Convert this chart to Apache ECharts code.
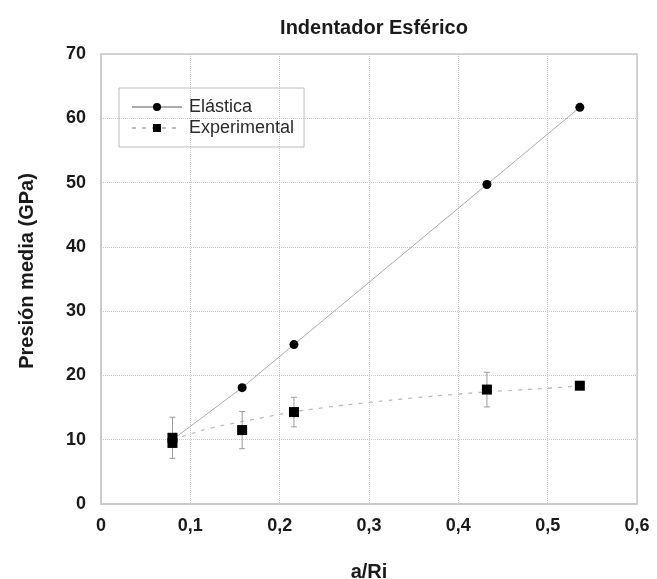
<!DOCTYPE html>
<html><head><meta charset="utf-8">
<script src="https://cdn.jsdelivr.net/npm/echarts@6/dist/echarts.min.js"></script>
<style>html,body{margin:0;padding:0;background:#fff}#c{width:657px;height:579px}</style>
</head><body><div id="c"></div>
<script>
var titleText = 'Indentador Esférico';
var xName = 'a/Ri';
var yName = 'Presión media (GPa)';
var elasticaX = [0.08, 0.158, 0.216, 0.432, 0.536];
var elasticaY = [10.0, 18.1, 24.8, 49.7, 61.7];
var expX = [0.08, 0.08, 0.158, 0.216, 0.432, 0.536];
var expY = [10.3, 9.5, 11.5, 14.3, 17.8, 18.4];
var expErr = [3.2, null, 2.9, 2.3, 2.7, null];
var fitX = [0.08, 0.1, 0.12, 0.15, 0.18, 0.21, 0.25, 0.3, 0.35, 0.4, 0.45, 0.5, 0.536];
var fitY = [10.0, 10.9, 11.7, 12.6, 13.4, 14.2, 15.0, 15.8, 16.5, 17.1, 17.6, 18.0, 18.4];

function zip(a, b) { return a.map(function (v, i) { return [v, b[i]]; }); }
var errData = [];
expX.forEach(function (x, i) { if (expErr[i] != null) errData.push([x, expY[i] - expErr[i], expY[i] + expErr[i]]); });

var FF = 'Liberation Sans, Arial, sans-serif';
var chart = echarts.init(document.getElementById('c'));
var tickStyle = { color: '#1a1a1a', fontWeight: 'bold', fontSize: 18, fontFamily: FF };
var nameStyle = { color: '#1a1a1a', fontWeight: 'bold', fontSize: 20, fontFamily: FF };
chart.setOption({
  animation: false,
  title: { text: titleText, left: 369, top: 13, textAlign: 'center',
    textStyle: { color: '#1a1a1a', fontWeight: 'bold', fontSize: 20, fontFamily: FF } },
  grid: { left: 101, right: 20, top: 54, bottom: 75, outerBoundsMode: 'none', containLabel: false,
    show: true, borderColor: '#c8c8c8', borderWidth: 1.5, backgroundColor: 'transparent' },
  legend: {
    data: ['Elástica', 'Experimental'], orient: 'vertical', left: 119, top: 88,
    itemWidth: 50, itemHeight: 10, itemGap: 3,
    borderColor: '#bbb', borderWidth: 1, padding: [10, 10, 10, 12],
    textStyle: { color: '#2a2a2a', fontSize: 18, fontFamily: FF, padding: [0, 0, 0, 2] }
  },
  xAxis: {
    type: 'value', min: 0, max: 0.6, interval: 0.1,
    name: xName, nameLocation: 'middle', nameGap: 58,
    nameTextStyle: nameStyle,
    axisLabel: Object.assign({ margin: 13, formatter: function (v) { return String(Math.round(v * 10) / 10).replace('.', ','); } }, tickStyle),
    axisLine: { lineStyle: { color: '#c8c8c8', width: 1.5 } },
    axisTick: { show: false },
    splitLine: { lineStyle: { color: '#c8c8c8', type: 'dotted' } }
  },
  yAxis: {
    type: 'value', min: 0, max: 70, interval: 10,
    name: yName, nameLocation: 'middle', nameGap: 64,
    nameTextStyle: Object.assign({ padding: [0, 0, 0, 16] }, nameStyle),
    axisLabel: Object.assign({ margin: 15 }, tickStyle),
    axisLine: { lineStyle: { color: '#c8c8c8', width: 1.5 } },
    axisTick: { show: false },
    splitLine: { lineStyle: { color: '#c8c8c8', type: 'dotted' } }
  },
  series: [
    { name: 'Elástica', type: 'line', data: zip(elasticaX, elasticaY),
      symbol: 'circle', symbolSize: 9, z: 3,
      itemStyle: { color: '#000' }, lineStyle: { color: '#aaa', width: 1 } },
    { name: 'Experimental', type: 'line', data: zip(fitX, fitY), smooth: true,
      symbol: 'rect', symbolSize: 9, showSymbol: false,
      itemStyle: { color: '#000' }, lineStyle: { color: '#bbb', width: 1.3, type: [4, 6] } },
    { name: 'ExpPts', type: 'scatter', data: zip(expX, expY), symbol: 'rect', symbolSize: 10, z: 6,
      itemStyle: { color: '#000', opacity: 1 } },
    { name: 'Err', type: 'custom', data: errData, z: 4,
      renderItem: function (params, api) {
        var lo = api.coord([api.value(0), api.value(1)]);
        var hi = api.coord([api.value(0), api.value(2)]);
        var w = 3;
        var st = { stroke: '#999', lineWidth: 1 };
        return { type: 'group', children: [
          { type: 'line', shape: { x1: lo[0], y1: lo[1], x2: hi[0], y2: hi[1] }, style: st },
          { type: 'line', shape: { x1: lo[0] - w, y1: lo[1], x2: lo[0] + w, y2: lo[1] }, style: st },
          { type: 'line', shape: { x1: hi[0] - w, y1: hi[1], x2: hi[0] + w, y2: hi[1] }, style: st }
        ] };
      } }
  ]
});
</script></body></html>
